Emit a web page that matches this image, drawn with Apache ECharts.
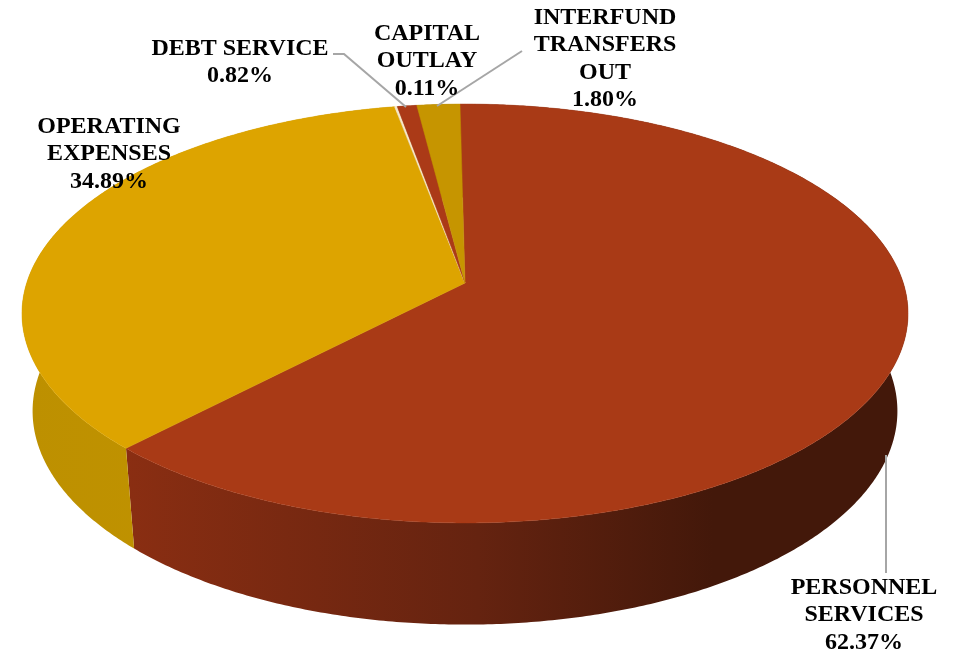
<!DOCTYPE html>
<html>
<head>
<meta charset="utf-8">
<style>
  html, body { margin: 0; padding: 0; background: #fff; }
  #chart { width: 959px; height: 656px; }
</style>
<script src="https://cdn.jsdelivr.net/npm/echarts@6/dist/echarts.min.js"></script>
</head>
<body>
<div id="chart"></div>
<script>
// slices run clockwise from just left of twelve o'clock
const categories = ["PERSONNEL\nSERVICES", "OPERATING\nEXPENSES", "CAPITAL\nOUTLAY", "DEBT SERVICE", "INTERFUND\nTRANSFERS\nOUT"];
const shares = [62.37, 34.89, 0.11, 0.82, 1.8];

const topColors = ["#A93A16", "#DDA400", "#F7E9C8", "#AB3A17", "#C69500"];
const wallStops = [
  [[0, "#8A2E12"], [0.45, "#652310"], [0.75, "#43180A"], [1, "#43180A"]],
  [[0, "#BD9000"], [0.6, "#C19300"], [1, "#B68A00"]],
  [[0, "#F7E9C8"], [1, "#F7E9C8"]],
  [[0, "#6E2710"], [1, "#6E2710"]],
  [[0, "#8E6B00"], [1, "#8E6B00"]],
];

// where each label sits: centre x, first baseline-middle y
const labelSpots = [
  [864, 587], [109, 126], [427, 33], [240, 48], [605, 17],
];
const leaderLines = [
  [[886, 455], [886, 573]],
  null,
  null,
  [[333, 54], [344, 54], [406, 107]],
  [[522, 51], [437, 106]],
];

// the disc is drawn in perspective, so the hub is not the middle of the ellipse
const startDeg = -0.75;
const hubX = 465;
const topRing = { x0: hubX, y0: 283, a: 438.3, b: 205, k: 0.1456 };
const bottomRing = { x0: hubX, y0: 380, a: 427.8, b: 209, k: 0.1456 };

function ringPoint(ring, deg) {
  const t = (deg * Math.PI) / 180;
  const u = Math.sin(t);
  const v = -Math.cos(t);
  const w = 1 - ring.k * v;
  return [ring.x0 + (ring.a * u) / w, ring.y0 + (ring.b * v) / w];
}

const total = shares.reduce((a, b) => a + b, 0);
function sliceAngles(idx) {
  let before = 0;
  for (let i = 0; i < idx; i++) before += shares[i];
  const from = startDeg + (before / total) * 360;
  return [from, from + (shares[idx] / total) * 360];
}

function arc(ring, from, to) {
  const steps = Math.max(2, Math.ceil((to - from) * 2));
  const pts = [];
  for (let i = 0; i <= steps; i++) pts.push(ringPoint(ring, from + ((to - from) * i) / steps));
  return pts;
}

function renderWall(params, api) {
  const idx = api.value(0);
  const [from, to] = sliceAngles(idx);
  const upper = arc(topRing, from, to);
  const lower = arc(bottomRing, from, to).reverse();
  const stops = wallStops[idx].map(([offset, color]) => ({ offset, color }));
  return {
    type: "polygon",
    shape: { points: upper.concat(lower) },
    style: {
      fill: new echarts.graphic.LinearGradient(0, 0, 1, 0, stops),
      stroke: null,
    },
  };
}

function renderTop(params, api) {
  const idx = api.value(0);
  const [from, to] = sliceAngles(idx);
  const pts = [[topRing.x0, topRing.y0]].concat(arc(topRing, from, to));
  return {
    type: "polygon",
    shape: { points: pts },
    style: { fill: topColors[idx], stroke: topColors[idx], lineWidth: 0.5 },
  };
}

const labelFont = {
  fontFamily: "Liberation Serif",
  fontWeight: "bold",
  fontSize: 24,
  lineHeight: 27.5,
  fill: "#000",
  align: "center",
  verticalAlign: "top",
};

const graphics = [];
categories.forEach((name, i) => {
  if (leaderLines[i]) {
    graphics.push({
      type: "polyline",
      shape: { points: leaderLines[i] },
      style: { stroke: "#A6A6A6", lineWidth: 2, fill: null },
      z: 5,
    });
  }
  graphics.push({
    type: "text",
    x: labelSpots[i][0],
    y: labelSpots[i][1] - 13,
    style: { ...labelFont, text: name + "\n" + shares[i].toFixed(2) + "%" },
    z: 6,
  });
});

const rows = shares.map((s, i) => [i, s]);
const myChart = echarts.init(document.getElementById("chart"), null, { renderer: "canvas" });
myChart.setOption({
  animation: false,
  backgroundColor: "#fff",
  graphic: graphics,
  series: [
    { type: "custom", coordinateSystem: "none", silent: true, z: 1, renderItem: renderWall, data: rows },
    { type: "custom", coordinateSystem: "none", silent: true, z: 2, renderItem: renderTop, data: rows },
  ],
});
</script>
</body>
</html>
